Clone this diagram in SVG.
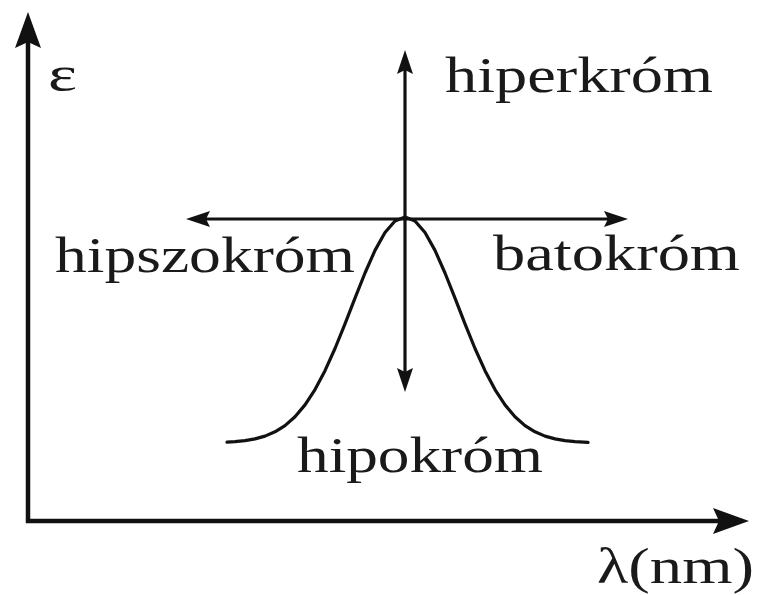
<svg xmlns="http://www.w3.org/2000/svg" width="758" height="595" viewBox="0 0 758 595">
  <style>
    .lbl { font-family: 'Liberation Serif', 'Nimbus Roman', 'Nimbus Roman No9 L', 'FreeSerif', 'Times New Roman', Times, serif; font-size: 50px; fill: #1a1a1a; }
    .axis { fill: none; stroke: #111; stroke-width: 4.5; }
    .arr { fill: none; stroke: #111; stroke-width: 3.2; }
    .curve { fill: none; stroke: #111; stroke-width: 3.2; stroke-linejoin: round; stroke-linecap: round; }
  </style>
  <defs>
    <marker id="bigHead" markerUnits="userSpaceOnUse" viewBox="0 -14 37 28" refX="8" refY="0" markerWidth="37" markerHeight="28" orient="auto-start-reverse">
      <path d="M0,-13 L36,0 L0,13 L6,0 Z" fill="#111"/>
    </marker>
    <marker id="smallHead" markerUnits="userSpaceOnUse" viewBox="0 -9 25 18" refX="6" refY="0" markerWidth="25" markerHeight="18" orient="auto-start-reverse">
      <path d="M0,-8 L24,0 L0,8 L4,0 Z" fill="#111"/>
    </marker>
  </defs>
  <rect width="758" height="595" fill="#ffffff"/>

  <g id="connectors">
    <path id="axes" class="axis" d="M28,40 L28,521 L721,521" marker-start="url(#bigHead)" marker-end="url(#bigHead)"/>
    <line id="vertical-arrow" class="arr" x1="405" y1="68" x2="405" y2="374" marker-start="url(#smallHead)" marker-end="url(#smallHead)"/>
    <line id="horizontal-arrow" class="arr" x1="204" y1="219" x2="610" y2="219" marker-start="url(#smallHead)" marker-end="url(#smallHead)"/>
  </g>

  <g id="band">
    <path class="curve" d="M227,442.2 L235,441.7 L245,440.6 L255,438.9 L265,436.1 L275,431.8 L285,425.6 L295,416.8 L305,404.9 L315,389.6 L325,370.7 L335,348.5 L345,323.9 L355,298.2 L365,273 L375,250.4 L385,232.5 L395,221 L405,217 L415,221 L425,232.5 L435,250.4 L445,273 L455,298.2 L465,323.9 L475,348.5 L485,370.7 L495,389.6 L505,404.9 L515,416.8 L525,425.6 L535,431.8 L545,436.1 L555,438.9 L565,440.6 L575,441.7 L588,442.4"/>
  </g>

  <g id="label-epsilon"><text class="lbl" x="48" y="91" textLength="29" lengthAdjust="spacingAndGlyphs">ε</text></g>
  <g id="label-hiperkrom"><text class="lbl" x="445" y="92" textLength="268" lengthAdjust="spacingAndGlyphs">hiperkróm</text></g>
  <g id="label-hipszokrom"><text class="lbl" x="55" y="272" textLength="300" lengthAdjust="spacingAndGlyphs">hipszokróm</text></g>
  <g id="label-batokrom"><text class="lbl" x="493" y="270" textLength="247" lengthAdjust="spacingAndGlyphs">batokróm</text></g>
  <g id="label-hipokrom"><text class="lbl" x="297" y="472" textLength="246" lengthAdjust="spacingAndGlyphs">hipokróm</text></g>
  <g id="label-lambda"><text class="lbl" x="597" y="583" textLength="157" lengthAdjust="spacingAndGlyphs">λ(nm)</text></g>
</svg>
